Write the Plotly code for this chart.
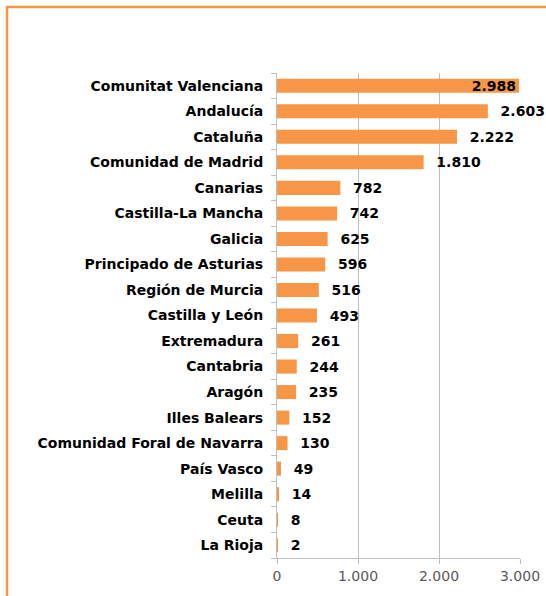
import plotly.graph_objects as go

regions = ["Comunitat Valenciana", "Andalucía", "Cataluña", "Comunidad de Madrid",
           "Canarias", "Castilla-La Mancha", "Galicia", "Principado de Asturias",
           "Región de Murcia", "Castilla y León", "Extremadura", "Cantabria",
           "Aragón", "Illes Balears", "Comunidad Foral de Navarra", "País Vasco",
           "Melilla", "Ceuta", "La Rioja"]
values = [2988, 2603, 2222, 1810, 782, 742, 625, 596, 516, 493, 261, 244, 235,
          152, 130, 49, 14, 8, 2]
x_ticks = [0, 1000, 2000, 3000]
x_ticktext = ["0", "1.000", "2.000", "3.000"]

ORANGE = "#F79646"
FONT = "DejaVu Sans"

# reverse so first category appears at the top
ys = regions[::-1]
xs = values[::-1]
positions = ["outside"] * (len(xs) - 1) + ["inside"]

lbl_font = dict(family=FONT, size=14, color="#000000", weight="bold")

fig = go.Figure(go.Bar(
    x=xs, y=ys, orientation="h",
    marker=dict(color=ORANGE, line=dict(width=0)),
    texttemplate="\u00a0\u00a0%{x:,}",
    textposition=positions,
    insidetextanchor="end",
    textfont=lbl_font,
    insidetextfont=lbl_font,
    outsidetextfont=lbl_font,
    constraintext="none",
    cliponaxis=False,
    hoverinfo="skip",
))

fig.update_layout(
    width=546, height=596,
    margin=dict(l=277, r=26, t=73, b=38),
    plot_bgcolor="white", paper_bgcolor="white",
    separators=",.",
    bargap=0.45,
    showlegend=False,
    font=dict(family=FONT, color="#000000"),
    shapes=[dict(type="rect", xref="paper", yref="paper",
                 x0=-1.111, x1=1.6, y0=-0.5, y1=1.136,
                 line=dict(color=ORANGE, width=2.5), layer="above")],
)
fig.update_xaxes(
    range=[0, 3000], tickvals=x_ticks, ticktext=x_ticktext,
    showgrid=True, gridcolor="#BFBFBF", gridwidth=1,
    showline=True, linecolor="#BFBFBF", linewidth=1,
    ticks="outside", ticklen=5, tickcolor="#BFBFBF",
    tickfont=dict(family=FONT, size=14, color="#595959"),
    zeroline=False, fixedrange=True, automargin=False,
)
fig.update_yaxes(
    showline=True, linecolor="#BFBFBF", linewidth=1,
    ticks="outside", ticklen=5, tickcolor="#BFBFBF", tickson="boundaries",
    tickfont=dict(family=FONT, size=14, color="#000000", weight="bold"),
    ticklabelstandoff=10, automargin=False, fixedrange=True,
    showgrid=False,
)

fig.write_html("out.html",
               config={"displayModeBar": False},
               post_script="document.body.style.margin='0';"
                           "document.body.style.overflow='hidden';")
